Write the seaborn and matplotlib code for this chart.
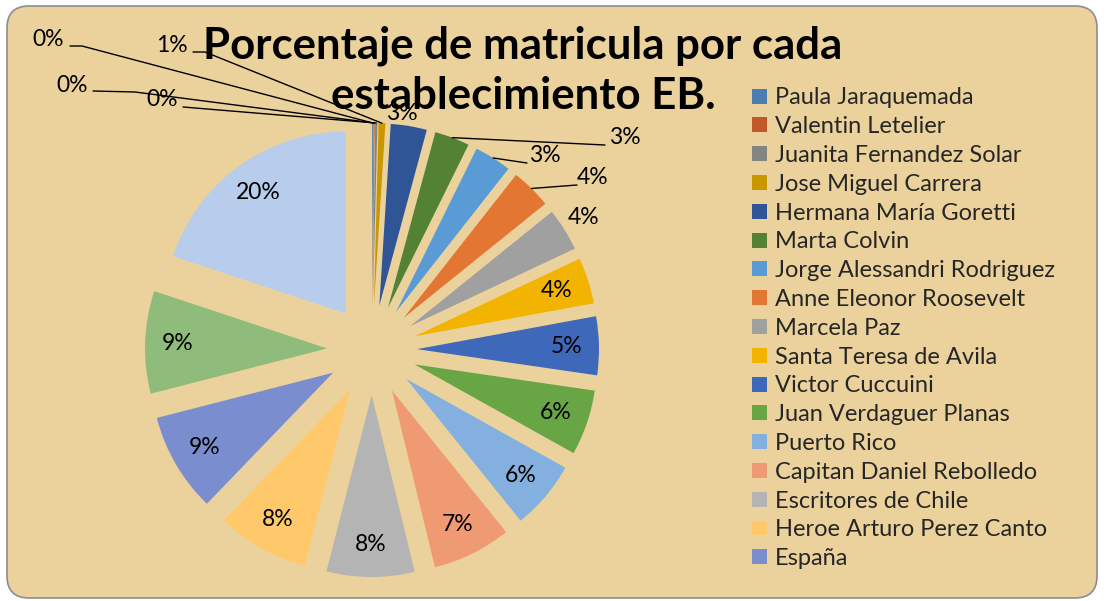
import matplotlib
matplotlib.use("Agg")
import numpy as np
import matplotlib.pyplot as plt
import seaborn as sns
from matplotlib.patches import FancyBboxPatch, Patch

# ------------------------------------------------------------------
# Data (percent of enrolment per school)
# ------------------------------------------------------------------
schools = [
    "Paula Jaraquemada", "Valentin Letelier", "Juanita Fernandez Solar",
    "Jose Miguel Carrera", "Hermana María Goretti", "Marta Colvin",
    "Jorge Alessandri Rodriguez", "Anne Eleonor Roosevelt", "Marcela Paz",
    "Santa Teresa de Avila", "Victor Cuccuini", "Juan Verdaguer Planas",
    "Puerto Rico", "Capitan Daniel Rebolledo", "Escritores de Chile",
    "Heroe Arturo Perez Canto", "España", "(sin nombre 1)", "(sin nombre 2)",
]
shares = [0.1, 0.1, 0.2, 0.6, 3.2, 3.1, 3.3, 3.6, 3.8, 4.1,
          5.2, 5.8, 6.1, 7.0, 7.8, 8.2, 8.8, 9.1, 19.9]
n_legend = 17  # legend in the original is cut after "España"

colors = [
    "#4A7EB3", "#C0582A", "#848484", "#C99700", "#2F5597", "#548235",
    "#5B9BD5", "#E37632", "#A0A0A0", "#F2B400", "#3E68BA", "#68A545",
    "#84B0DF", "#F09A74", "#B4B4B4", "#FFC96B", "#7A8ECF", "#8FBC7A",
    "#B7CDEB",
]

W, H = 1106, 601
BG = "#EBD29C"


def py(y):
    """image row -> data y"""
    return H - y


sns.set_theme(style="white")
plt.rcParams["font.family"] = ["Lato", "DejaVu Sans"]

fig = plt.figure(figsize=(W / 100, H / 100), dpi=100)
fig.patch.set_facecolor("white")
ax = fig.add_axes([0, 0, 1, 1])

# rounded chart-area background
ax.add_patch(FancyBboxPatch((7 + 22, py(598) + 22), 1097 - 7 - 44, 598 - 6 - 44,
                            boxstyle="round,pad=22", facecolor=BG,
                            edgecolor="#8C8C8C", linewidth=1.2, zorder=0))

cx, cy = 372, py(350)
R, EXPL = 182, 45
wedges, _ = ax.pie(shares, colors=colors, startangle=90, counterclock=False,
                   radius=R, center=(cx, cy), explode=[EXPL] * len(shares),
                   wedgeprops=dict(linewidth=0), frame=True)

ax.set_xlim(0, W)
ax.set_ylim(0, H)
ax.set_aspect("equal")
ax.axis("off")

labels = [f"{s:.0f}%" for s in shares]
LBL_FS = 16.5


def mid_point(w, frac):
    th = np.deg2rad((w.theta1 + w.theta2) / 2)
    x0, y0 = w.center
    return x0 + frac * w.r * np.cos(th), y0 + frac * w.r * np.sin(th)


# inside labels for the big slices
for i in range(9, len(shares)):
    x, y = mid_point(wedges[i], 0.82)
    ax.text(x, y, labels[i], ha="center", va="center", fontsize=LBL_FS, color="black")

# outside labels: text position, leader path end points (image pixels)
outside = {
    0: ((48, 39), [(82, 46), (70, 46)]),
    1: ((72, 85), [(135, 92), (93, 91)]),
    2: ((162, 100), [(183, 107)]),
    3: ((172, 46), [(205, 52), (193, 52)]),
    4: ((402, 113), None),
    5: ((625, 138), [(605, 145)]),
    6: ((545, 156), [(527, 163)]),
    7: ((593, 178), [(577, 185)]),
    8: ((584, 217), None),
}
for i, (pos, path) in outside.items():
    ax.text(pos[0], py(pos[1]), labels[i], ha="center", va="center",
            fontsize=LBL_FS, color="black", zorder=5)
    if path:
        ex, ey = mid_point(wedges[i], 1.0)
        xs = [ex] + [p[0] for p in path]
        ys = [ey] + [py(p[1]) for p in path]
        ax.plot(xs, ys, color="black", linewidth=1, zorder=4)

ax.text(523, py(71), "Porcentaje de matricula por cada\nestablecimiento EB.",
        ha="center", va="center", fontsize=31.5, fontweight="bold",
        linespacing=1.3, color="black", zorder=6)

handles = [Patch(facecolor=c, edgecolor="none") for c in colors[:n_legend]]
fig.legend(handles, schools[:n_legend], loc="upper left",
           bbox_to_anchor=(743 / W, 1 - 78 / H), frameon=False,
           fontsize=17, handlelength=0.6, handleheight=0.6,
           handletextpad=0.35, labelspacing=0.33, borderaxespad=0)

fig.savefig("out.png", dpi=100, facecolor=fig.get_facecolor())
